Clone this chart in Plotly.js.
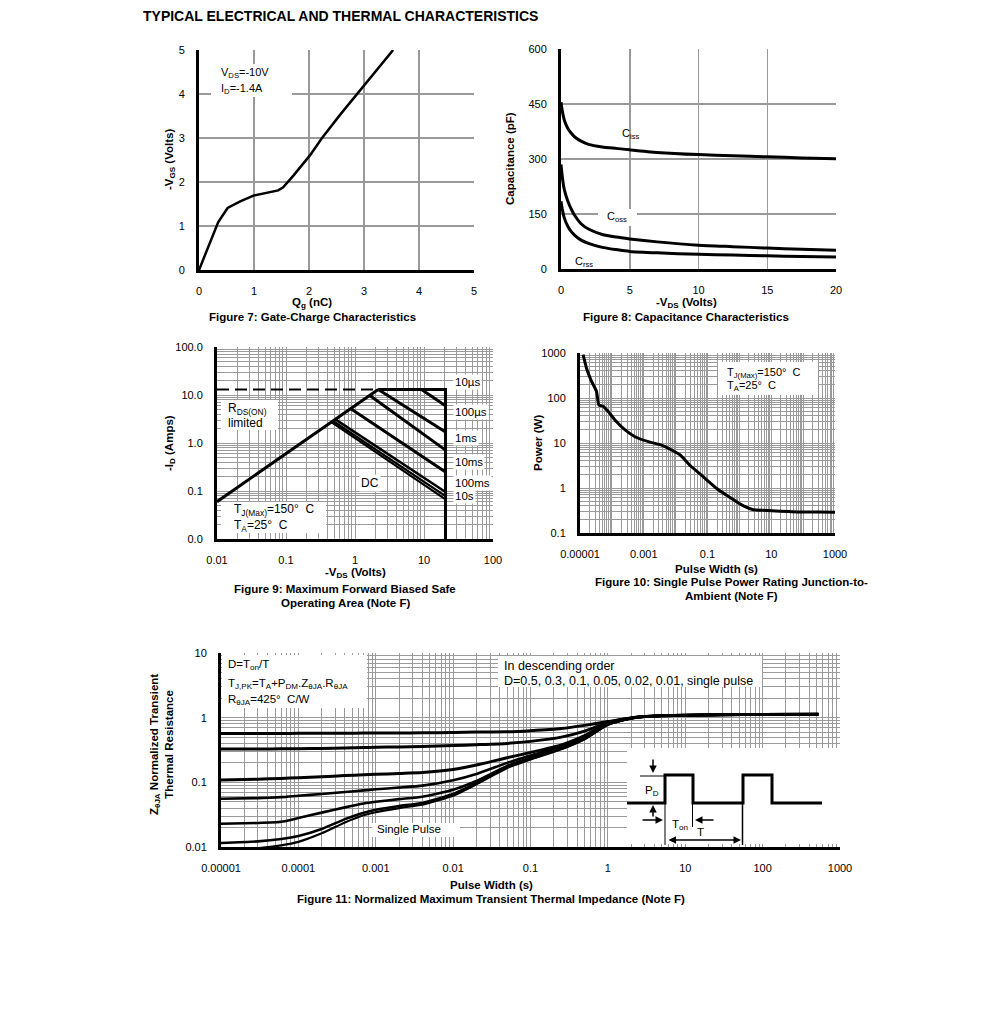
<!DOCTYPE html>
<html><head><meta charset="utf-8">
<script src="https://cdn.plot.ly/plotly-3.0.1.min.js"></script>
<style>html,body{margin:0;padding:0;background:#fff}#chart{width:991px;height:1016px}</style>
</head><body><div id="chart"></div>
<script>
// ---------- Figure 7: Gate charge ----------
const qg  = [0, 0.1, 0.2, 0.35, 0.52, 0.75, 0.99, 1.23, 1.44, 1.53, 1.72, 2.02, 2.23, 2.56, 2.93, 3.11, 3.29, 3.53];
const vgs = [0, 0.31, 0.64, 1.09, 1.41, 1.56, 1.69, 1.76, 1.81, 1.88, 2.15, 2.61, 2.99, 3.52, 4.09, 4.35, 4.62, 5.0];

// ---------- Figure 8: Capacitance ----------
const vds8 = [0, 0.1, 0.25, 0.5, 0.75, 1, 1.5, 2, 3, 4, 5, 7, 10, 12.5, 15, 17.5, 20];
const ciss = [455, 430, 405, 383, 370, 360, 348, 340, 333, 329, 325, 318, 312, 309, 306, 303, 301];
const coss = [285, 250, 215, 185, 163, 146, 122, 109, 94, 87, 82, 74, 65, 61, 57, 54, 51];
const crss = [185, 162, 138, 116, 102, 92, 78, 70, 59, 53, 48, 44, 40, 38, 36, 34, 33];

// ---------- Figure 9: SOA ----------
const rdsV = [0.01, 2.17],  rdsI = [0.06, 13];
const dashV = [0.01, 2.17], dashI = [13, 13];
const limV = [2.17, 20.5, 20.5], limI = [13, 13, 0.01];
const s10usV = [9.2, 20.5],   s10usI = [13, 6.0];
const s100usV = [2.17, 20.5], s100usI = [13, 1.69];
const s1msV = [1.64, 20.5],   s1msI = [9.8, 0.71];
const s10msV = [0.87, 20.5],  s10msI = [5.2, 0.25];
const s100msV = [0.52, 20.5], s100msI = [3.1, 0.095];
const s10sV = [0.48, 20.5],   s10sI = [2.87, 0.078];
const sDCV = [0.455, 20.5],   sDCI = [2.72, 0.067];

// ---------- Figure 10: single pulse power ----------
const pw10 = [1.25e-5, 1.6e-5, 2.3e-5, 3.3e-5, 3.9e-5, 5.4e-5, 7.7e-5, 1.25e-4, 2.6e-4, 5.3e-4, 1.4e-3, 3.6e-3, 7.5e-3, 1.4e-2, 2.8e-2, 7.4e-2, 0.195, 0.51, 1.34, 2.76, 5.6, 18.8, 63, 270, 1000];
const pwr10 = [920, 460, 235, 140, 70, 65, 50, 32.5, 19.5, 13.8, 10.7, 9.0, 7.0, 5.4, 3.2, 1.77, 0.975, 0.614, 0.4, 0.33, 0.32, 0.304, 0.294, 0.294, 0.29];

// ---------- Figure 11: transient thermal impedance ----------
const pw11 = [1e-5, 3e-5, 6e-5, 1e-4, 2e-4, 4e-4, 7e-4, 1e-3, 2e-3, 4e-3, 0.01, 0.02, 0.05, 0.1, 0.25, 0.5, 1, 2, 3, 5, 10, 30, 100, 525];
const zD05  = [0.57, 0.57, 0.57, 0.572, 0.573, 0.575, 0.577, 0.578, 0.58, 0.583, 0.59, 0.598, 0.605, 0.63, 0.68, 0.76, 0.87, 0.99, 1.04, 1.07, 1.09, 1.11, 1.12, 1.13];
const zD03  = [0.327, 0.328, 0.33, 0.332, 0.335, 0.34, 0.345, 0.348, 0.353, 0.358, 0.37, 0.382, 0.4, 0.43, 0.5, 0.62, 0.84, 0.99, 1.04, 1.07, 1.09, 1.11, 1.12, 1.13];
const zD01  = [0.109, 0.112, 0.115, 0.118, 0.122, 0.127, 0.131, 0.133, 0.137, 0.142, 0.158, 0.185, 0.24, 0.29, 0.38, 0.53, 0.82, 0.98, 1.04, 1.07, 1.09, 1.11, 1.12, 1.13];
const zD005 = [0.0556, 0.057, 0.059, 0.062, 0.066, 0.071, 0.075, 0.078, 0.083, 0.089, 0.108, 0.135, 0.2, 0.26, 0.36, 0.5, 0.8, 0.98, 1.04, 1.07, 1.09, 1.11, 1.12, 1.13];
const zD002 = [0.0229, 0.0235, 0.0245, 0.028, 0.034, 0.041, 0.047, 0.05, 0.055, 0.06, 0.077, 0.105, 0.18, 0.24, 0.34, 0.48, 0.79, 0.98, 1.04, 1.07, 1.09, 1.11, 1.12, 1.13];
const zD001 = [0.0115, 0.0122, 0.0133, 0.0148, 0.019, 0.027, 0.034, 0.0376, 0.043, 0.048, 0.066, 0.097, 0.172, 0.23, 0.33, 0.47, 0.78, 0.98, 1.04, 1.07, 1.09, 1.11, 1.12, 1.13];
const zSP   = [0.009, 0.0096, 0.0106, 0.012, 0.0163, 0.024, 0.031, 0.0345, 0.04, 0.045, 0.062, 0.093, 0.167, 0.225, 0.325, 0.465, 0.78, 0.98, 1.04, 1.07, 1.09, 1.11, 1.12, 1.13];

// ---------- tick labels ----------
const f9xVals = [0.01, 0.1, 1, 10, 100],  f9xText = ['0.01', '0.1', '1', '10', '100'];
const f9yVals = [0.01, 0.1, 1, 10, 100],  f9yText = ['0.0', '0.1', '1.0', '10.0', '100.0'];
const f10xVals = [1e-5, 1e-3, 0.1, 10, 1000], f10xText = ['0.00001', '0.001', '0.1', '10', '1000'];
const f10yVals = [0.1, 1, 10, 100, 1000], f10yText = ['0.1', '1', '10', '100', '1000'];
const f11xVals = [1e-5, 1e-4, 1e-3, 0.01, 0.1, 1, 10, 100, 1000];
const f11xText = ['0.00001', '0.0001', '0.001', '0.01', '0.1', '1', '10', '100', '1000'];
const f11yVals = [0.01, 0.1, 1, 10], f11yText = ['0.01', '0.1', '1', '10'];

// ---------- layout helpers ----------
const W = 991, H = 1016;
const FONT = '"Liberation Sans", Arial, Helvetica, sans-serif';
const SUB = {
  1: {x: [199, 474], y: [50, 270]},
  2: {x: [561, 836], y: [49, 269]},
  3: {x: [217, 493], y: [347, 539]},
  4: {x: [580, 835], y: [353, 533]},
  5: {x: [221, 840], y: [653, 847]}
};
const sfx = n => (n === 1 ? '' : String(n));
const xdom = n => [SUB[n].x[0] / W, SUB[n].x[1] / W];
const ydom = n => [1 - SUB[n].y[1] / H, 1 - SUB[n].y[0] / H];

const traces = [];
function addLine(n, x, y, opts) {
  traces.push({type: 'scatter', mode: 'lines', x: x, y: y, xaxis: 'x' + sfx(n), yaxis: 'y' + sfx(n),
    line: Object.assign({color: '#000', width: 3}, opts || {}), hoverinfo: 'skip', showlegend: false});
}

const baseAxis = {
  showline: true, linecolor: '#000', linewidth: 3, mirror: false, zeroline: false,
  showgrid: true, gridcolor: '#9a9a9a', gridwidth: 1,
  ticks: 'outside', ticklen: 9, tickcolor: 'rgba(0,0,0,0)',
  tickfont: {family: FONT, size: 11, color: '#000'}, fixedrange: true
};
function linAxis(n, isX, range, dtick) {
  return Object.assign({}, baseAxis, {
    domain: isX ? xdom(n) : ydom(n), anchor: (isX ? 'y' : 'x') + sfx(n),
    range: range, dtick: dtick, tick0: 0, gridwidth: 1.5
  });
}
function logGrid(lo, hi) {
  const v = [];
  for (let e = lo; e < hi; e++) for (let m = 1; m < 10; m++) v.push(parseFloat((m * Math.pow(10, e)).toPrecision(6)));
  v.push(parseFloat(Math.pow(10, hi).toPrecision(6)));
  return v;
}
function logAxis(n, isX, lo, hi, labVals, labText) {
  const grid = logGrid(lo, hi);
  const text = grid.map(g => {
    const i = labVals.findIndex(v => Math.abs(v - g) / v < 1e-6);
    return i >= 0 ? labText[i] : '';
  });
  return Object.assign({}, baseAxis, {
    domain: isX ? xdom(n) : ydom(n), anchor: (isX ? 'y' : 'x') + sfx(n),
    type: 'log', range: [lo, hi], tickmode: 'array', tickvals: grid, ticktext: text
  });
}

// ---------- traces ----------
addLine(1, qg, vgs, {width: 2.5});
addLine(2, vds8, ciss, {shape: 'spline', smoothing: 0.6});
addLine(2, vds8, coss, {shape: 'spline', smoothing: 0.6});
addLine(2, vds8, crss, {shape: 'spline', smoothing: 0.6});

addLine(3, dashV, dashI, {width: 2, dash: '12px,6px'});
addLine(3, rdsV, rdsI);
addLine(3, limV, limI);
addLine(3, s10usV, s10usI);
addLine(3, s100usV, s100usI);
addLine(3, s1msV, s1msI);
addLine(3, s10msV, s10msI);
addLine(3, s100msV, s100msI, {width: 2.5});
addLine(3, s10sV, s10sI, {width: 2.2});
addLine(3, sDCV, sDCI, {width: 2.2});

addLine(4, pw10, pwr10, {shape: 'spline', smoothing: 0.4});

addLine(5, pw11, zD05, {shape: 'spline', smoothing: 0.5});
addLine(5, pw11, zD03, {shape: 'spline', smoothing: 0.5});
addLine(5, pw11, zD01, {shape: 'spline', smoothing: 0.5});
addLine(5, pw11, zD005, {shape: 'spline', smoothing: 0.5, width: 2.6});
addLine(5, pw11, zD002, {shape: 'spline', smoothing: 0.5, width: 2.6});
addLine(5, pw11, zD001, {shape: 'spline', smoothing: 0.5, width: 2.6});
addLine(5, pw11, zSP, {shape: 'spline', smoothing: 0.5, width: 2.2});

// ---------- annotations ----------
const ann = [];
function txt(px, py, text, o) {
  ann.push(Object.assign({xref: 'paper', yref: 'paper', x: px / W, y: 1 - py / H, text: text, showarrow: false,
    xanchor: 'left', yanchor: 'middle', font: {family: FONT, size: 11, color: '#000'}}, o || {}));
}
const bold = s => '<b>' + s + '</b>';
const BF = {family: FONT, size: 11.5, color: '#000'};

txt(141, 16, bold('TYPICAL ELECTRICAL AND THERMAL CHARACTERISTICS'), {font: {family: FONT, size: 14, color: '#000'}});

// axis titles + captions
txt(312, 303, bold('Q<sub>g</sub> (nC)'), {xanchor: 'center', font: BF});
txt(312, 317, bold('Figure 7: Gate-Charge Characteristics'), {xanchor: 'center', font: BF});
txt(170, 160, bold('-V<sub>GS</sub> (Volts)'), {xanchor: 'center', textangle: -90, font: BF});

txt(686, 303, bold('-V<sub>DS</sub> (Volts)'), {xanchor: 'center', font: BF});
txt(686, 317, bold('Figure 8: Capacitance Characteristics'), {xanchor: 'center', font: BF});
txt(510, 159, bold('Capacitance (pF)'), {xanchor: 'center', textangle: -90, font: BF});

txt(355, 573, bold('-V<sub>DS</sub> (Volts)'), {xanchor: 'center', font: BF});
txt(345, 589, bold('Figure 9: Maximum Forward Biased Safe'), {xanchor: 'center', font: BF});
txt(345, 603, bold('Operating Area (Note F)'), {xanchor: 'center', font: BF});
txt(170, 443, bold('-I<sub>D</sub> (Amps)'), {xanchor: 'center', textangle: -90, font: BF});

txt(716, 569, bold('Pulse Width (s)'), {xanchor: 'center', font: BF});
txt(731, 582, bold('Figure 10: Single Pulse Power Rating Junction-to-'), {xanchor: 'center', font: BF});
txt(731, 596, bold('Ambient (Note F)'), {xanchor: 'center', font: BF});
txt(538, 443, bold('Power (W)'), {xanchor: 'center', textangle: -90, font: BF});

txt(491, 885, bold('Pulse Width (s)'), {xanchor: 'center', font: BF});
txt(491, 899, bold('Figure 11: Normalized Maximum Transient Thermal Impedance (Note F)'), {xanchor: 'center', font: BF});
txt(161, 745, bold('Z<sub>θJA</sub> Normalized Transient<br>Thermal Resistance'), {xanchor: 'center', textangle: -90, font: BF});

// in-plot texts
txt(219, 73, 'V<sub>DS</sub>=-10V');
txt(219, 89, 'I<sub>D</sub>=-1.4A');

txt(631, 134, 'C<sub>iss</sub>', {xanchor: 'center'});
txt(617, 217, 'C<sub>oss</sub>', {xanchor: 'center'});
txt(584, 262, 'C<sub>rss</sub>', {xanchor: 'center'});

const F12 = {family: FONT, size: 12, color: '#000'};
txt(226, 409, 'R<sub>DS(ON)</sub>', {font: F12});
txt(226, 423, 'limited', {font: F12});
txt(232, 510, 'T<sub>J(Max)</sub>=150°  C', {font: F12});
txt(232, 526, 'T<sub>A</sub>=25°  C', {font: F12});
txt(370, 483, 'DC', {xanchor: 'center', font: F12, bgcolor: '#fff'});
const F115 = {family: FONT, size: 11.5, color: '#000'};
[['10µs', 382], ['100µs', 412], ['1ms', 438], ['10ms', 462], ['100ms', 483], ['10s', 496]].forEach(a =>
  txt(453, a[1], a[0], {font: F115, bgcolor: '#fff', borderpad: 1}));

txt(725, 373, 'T<sub>J(Max)</sub>=150°  C');
txt(725, 386, 'T<sub>A</sub>=25°  C');

txt(226, 665, 'D=T<sub>on</sub>/T', {font: F115});
txt(226, 684, 'T<sub>J,PK</sub>=T<sub>A</sub>+P<sub>DM</sub>.Z<sub>θJA</sub>.R<sub>θJA</sub>', {font: F115});
txt(226, 700, 'R<sub>θJA</sub>=425°  C/W', {font: F115});
const F125 = {family: FONT, size: 12.5, color: '#000'};
txt(502, 666, 'In descending order', {font: F125});
txt(502, 681, 'D=0.5, 0.3, 0.1, 0.05, 0.02, 0.01, single pulse', {font: F125});
txt(375, 829, 'Single Pulse', {font: F115});

// inset labels
txt(652, 791, 'P<sub>D</sub>', {xanchor: 'center', font: F115});
txt(680, 825, 'T<sub>on</sub>', {xanchor: 'center', font: F115});
txt(700, 832, 'T', {xanchor: 'center', font: F115});

function arrow(px, py, ax, ay, side) {
  ann.push({xref: 'paper', yref: 'paper', x: px / W, y: 1 - py / H, ax: ax, ay: ay, text: '', showarrow: true,
    arrowhead: 2, arrowsize: 1, arrowwidth: 1.5, arrowcolor: '#000', standoff: 0, startstandoff: 0,
    arrowside: side || 'end'});
}
arrow(653, 773, 0, -15);
arrow(653, 805, 0, 13);
arrow(663, 820, -22, 0);
arrow(695, 820, 20, 0);
arrow(741, 840, -74, 0, 'end+start');

// ---------- shapes (white label boxes and the pulse sketch) ----------
const shapes = [];
function box(px0, py0, px1, py1) {
  shapes.push({type: 'rect', xref: 'paper', yref: 'paper', layer: 'above',
    x0: px0 / W, x1: px1 / W, y0: 1 - py1 / H, y1: 1 - py0 / H, fillcolor: '#fff', line: {width: 0}});
}
box(211, 64, 292, 97);
box(598, 209, 637, 226);
box(221, 400, 278, 430);
box(221, 502, 326, 533);
box(718, 362, 818, 395);
box(222, 655, 367, 708);
box(498, 656, 762, 687);
box(372, 823, 460, 837);
box(627, 748, 840, 844);

function ppath(pts, width) {
  shapes.push({type: 'path', xref: 'paper', yref: 'paper', layer: 'above',
    path: pts.map((p, i) => (i ? 'L' : 'M') + (p[0] / W).toFixed(5) + ',' + (1 - p[1] / H).toFixed(5)).join(' '),
    line: {color: '#000', width: width}});
}
ppath([[627, 803], [665, 803], [665, 775], [693, 775], [693, 803], [743, 803], [743, 775], [772, 775], [772, 803], [822, 803]], 3);
ppath([[665, 803], [665, 845]], 1);
ppath([[692.5, 803], [692.5, 827]], 1);
ppath([[742.5, 803], [742.5, 845]], 1.5);
ppath([[640, 776], [665, 776]], 1);

// ---------- layout ----------
const layout = {
  width: W, height: H, margin: {l: 0, r: 0, t: 0, b: 0},
  paper_bgcolor: '#fff', plot_bgcolor: '#fff', showlegend: false,
  font: {family: FONT, size: 11, color: '#000'},
  xaxis: linAxis(1, true, [0, 5], 1),
  yaxis: linAxis(1, false, [0, 5], 1),
  xaxis2: linAxis(2, true, [0, 20], 5),
  yaxis2: linAxis(2, false, [0, 600], 150),
  xaxis3: logAxis(3, true, -2, 2, f9xVals, f9xText),
  yaxis3: logAxis(3, false, -2, 2, f9yVals, f9yText),
  xaxis4: logAxis(4, true, -5, 3, f10xVals, f10xText),
  yaxis4: logAxis(4, false, -1, 3, f10yVals, f10yText),
  xaxis5: logAxis(5, true, -5, 3, f11xVals, f11xText),
  yaxis5: logAxis(5, false, -2, 1, f11yVals, f11yText),
  annotations: ann, shapes: shapes
};

Plotly.newPlot('chart', traces, layout, {displayModeBar: false, staticPlot: true});
</script>
</body></html>
